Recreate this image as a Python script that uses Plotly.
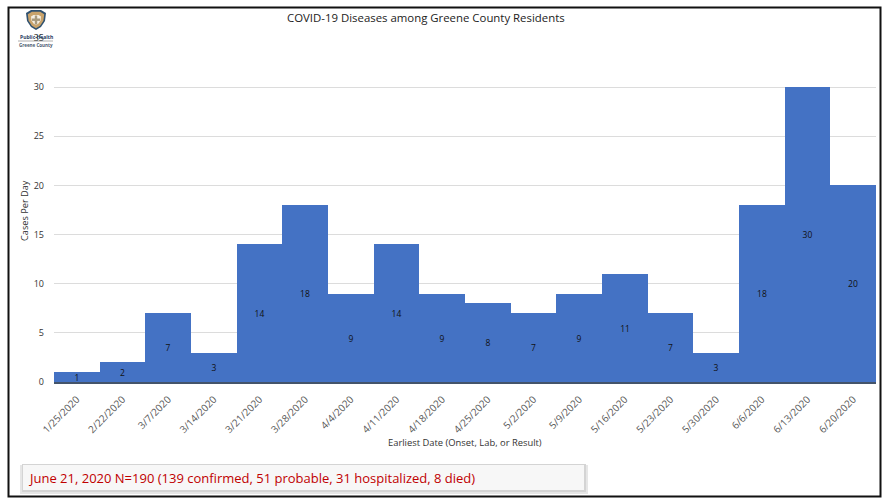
import plotly.graph_objects as go

dates = ["1/25/2020", "2/22/2020", "3/7/2020", "3/14/2020", "3/21/2020", "3/28/2020",
         "4/4/2020", "4/11/2020", "4/18/2020", "4/25/2020", "5/2/2020", "5/9/2020",
         "5/16/2020", "5/23/2020", "5/30/2020", "6/6/2020", "6/13/2020", "6/20/2020"]
cases = [1, 2, 7, 3, 14, 18, 9, 14, 9, 8, 7, 9, 11, 7, 3, 18, 30, 20]
y_ticks = [0, 5, 10, 15, 20, 25, 30, 35]

W, H = 882, 498
L, R, T, B = 54, 6, 38, 116
FONT = "Open Sans"


def fx(px):
    return (px - L) / (W - L - R)


def fy(py):
    return (H - B - py) / (H - T - B)


def rect(x0, y0, x1, y1, **kw):
    return dict(type="rect", xref="paper", yref="paper",
                x0=fx(x0), x1=fx(x1), y0=fy(y0), y1=fy(y1), **kw)


def path(points, **kw):
    d = "M " + " L ".join(f"{fx(x):.5f},{fy(y):.5f}" for x, y in points) + " Z"
    return dict(type="path", xref="paper", yref="paper", path=d, **kw)


def shield(cx, cy, s):
    return [(cx - 10 * s, cy - 7 * s), (cx - 5 * s, cy - 10 * s), (cx, cy - 10 * s),
            (cx + 5 * s, cy - 10 * s), (cx + 10 * s, cy - 7 * s), (cx + 9 * s, cy + 1 * s),
            (cx + 5 * s, cy + 7 * s), (cx, cy + 10 * s), (cx - 5 * s, cy + 7 * s),
            (cx - 9 * s, cy + 1 * s)]


def note(text, x, y, size, color, **kw):
    return dict(text=text, x=fx(x), y=fy(y), xref="paper", yref="paper", showarrow=False,
                xanchor=kw.pop("xanchor", "center"), yanchor="middle",
                font=dict(family=FONT, size=size, color=color), **kw)


no_line = dict(width=0)
shapes = [
    # outer frame
    rect(8.5, 7.5, 880.5, 496.5, line=dict(color="#111111", width=2), layer="below"),
    # footer note box with its soft drop shadow
    rect(20, 465, 588, 494, fillcolor="#e6e6e6", line=no_line, layer="below"),
    rect(22, 464, 586, 492, fillcolor="#d4d4d4", line=no_line, layer="below"),
    rect(23, 465, 584, 490, fillcolor="#f7f7f7", line=no_line, layer="below"),
    # county health shield
    path(shield(36, 20, 1.0), fillcolor="#2f5170", line=no_line),
    path(shield(36, 20, 0.82), fillcolor="#c9a36b", line=no_line),
    path(shield(36, 20, 0.5), fillcolor="#f5efe3", line=no_line),
    rect(34.8, 15.5, 37.2, 24.5, fillcolor="#a8997c", line=no_line),
    rect(32, 18.5, 40, 20.9, fillcolor="#a8997c", line=no_line),
    dict(type="line", xref="paper", yref="paper", x0=fx(18), x1=fx(53), y0=fy(41), y1=fy(41),
         line=dict(color="#777777", width=0.6)),
]

annotations = [
    note("COVID-19 Diseases among Greene County Residents", 426, 17.5, 11.4, "#222222"),
    note("Cases Per Day", 24, 211, 9.2, "#333333", textangle=-90),
    note("Earliest Date (Onset, Lab, or Result)", 465, 442, 9.4, "#333333"),
    note("June 21, 2020 N=190 (139 confirmed, 51 probable, 31 hospitalized, 8 died)",
         26, 478, 13, "#c00000", xanchor="left"),
    note("<b>Public Health</b>", 36, 36.5, 5, "#1f3a5f"),
    note("<b>Greene County</b>", 36, 45, 4.5, "#4a5a70"),
]

fig = go.Figure(go.Bar(
    x=dates, y=cases, text=cases,
    marker=dict(color="#4472c4", line=dict(width=0)),
    textposition="inside", insidetextanchor="middle", textangle=0,
    constraintext="none", cliponaxis=False,
    insidetextfont=dict(family=FONT, size=8.5, color="#111111"),
    hoverinfo="x+y",
))

fig.update_layout(
    width=W, height=H, margin=dict(l=L, r=R, t=T, b=B, autoexpand=False),
    paper_bgcolor="white", plot_bgcolor="white", bargap=0, showlegend=False,
    shapes=shapes, annotations=annotations, font=dict(family=FONT),
)
fig.update_xaxes(
    type="category", categoryorder="array", categoryarray=dates,
    tickangle=-45, ticks="", showgrid=False, ticklabelstandoff=6,
    tickfont=dict(family=FONT, size=10, color="#595959"),
    showline=True, linecolor="#44546a", linewidth=1.5,
)
fig.update_yaxes(
    range=[0, 35], tickvals=y_ticks, ticks="", ticklabelstandoff=9,
    gridcolor="#dcdcdc", gridwidth=1, zeroline=False,
    tickfont=dict(family=FONT, size=9, color="#333333"),
)

fig.write_html("out.html", config=dict(displayModeBar=False))
